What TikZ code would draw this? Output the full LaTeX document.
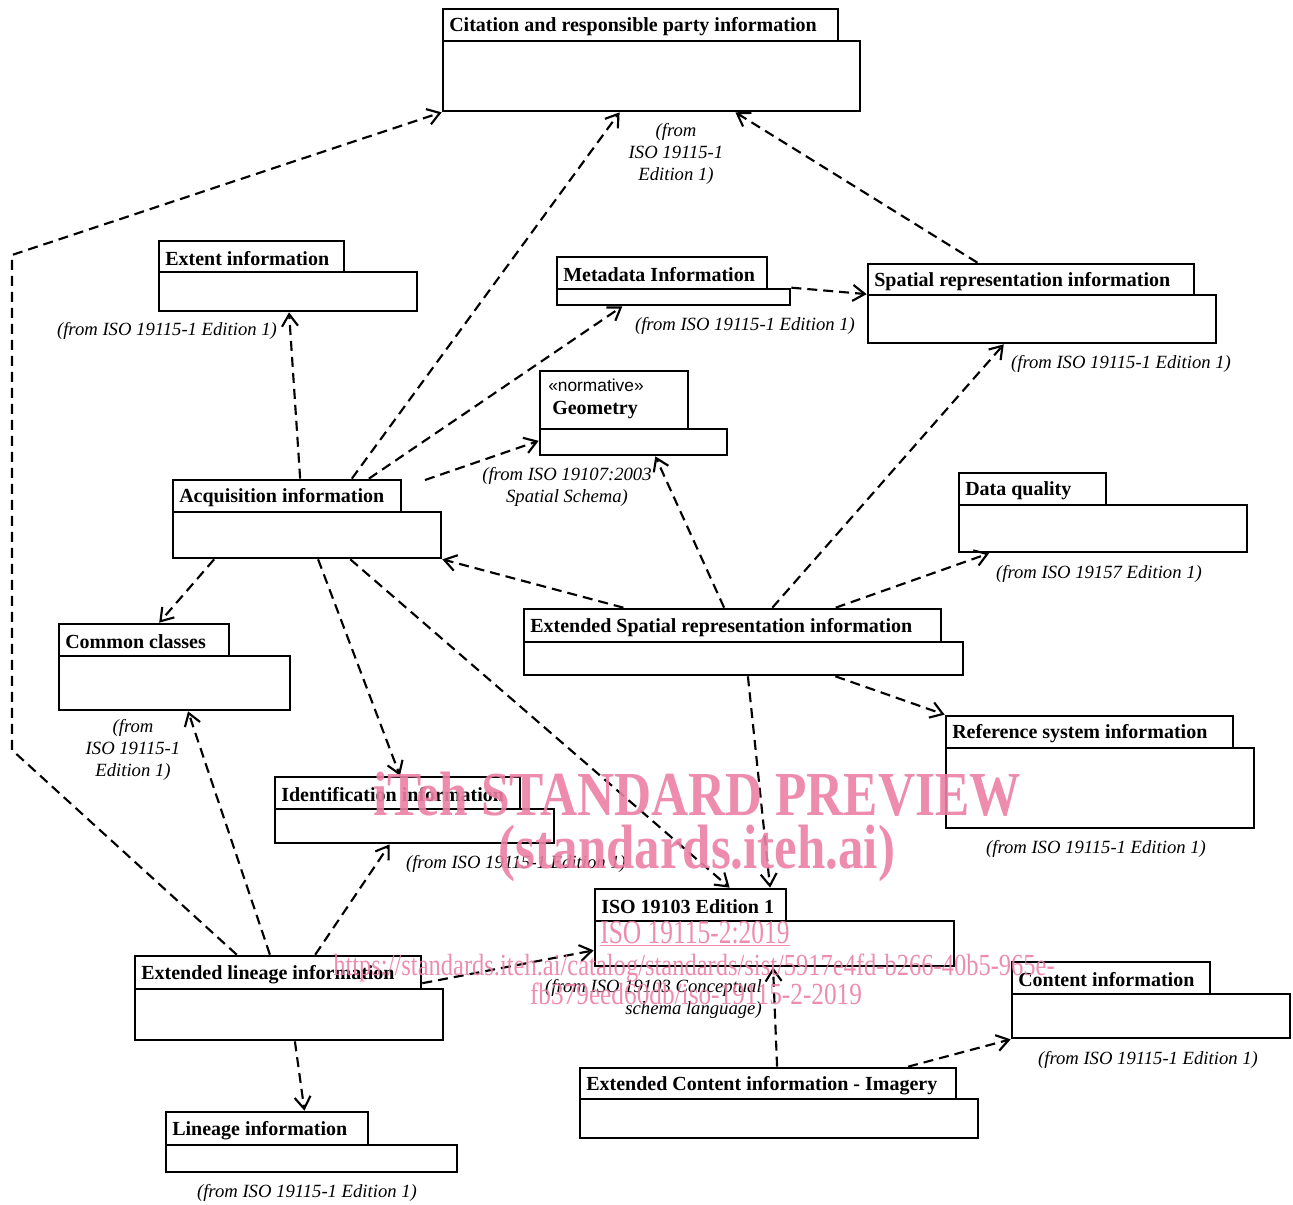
\documentclass[tikz,border=0pt]{standalone}
\usepackage{fontspec}
\setmainfont{Liberation Serif}
\newfontfamily\arialf{Liberation Sans}
\usetikzlibrary{arrows.meta,fit,calc}
\definecolor{wm}{RGB}{236,128,164}
\tikzset{
  boxline/.style={draw, line width=2pt, inner sep=0pt},
  ttl/.style={font=\fontsize{15}{18}\selectfont\bfseries, inner sep=0pt, anchor=west},
  src/.style={font=\fontsize{14}{16.5}\selectfont\itshape, inner sep=0pt, align=center},
  dep/.style={line width=1.6pt, dash pattern=on 7.5pt off 4.5pt, -{Straight Barb[length=9pt,width=12pt]}},
  wmk/.style={text=wm, inner sep=0pt, anchor=base, text opacity=0.9},
}
% #1 name, #2 tab x1, #3 tab y1, #4 tab x2, #5 body y1, #6 body x2, #7 body y2, #8 title
\newcommand\pkgbox[8]{%
  \node[boxline, fit={(#2,#3)(#4,#5)}] (#1-t) {};
  \node[boxline, fit={(#2,#5)(#6,#7)}] (#1) {};
  \node[ttl] (#1-l) at ([xshift=5.5pt,yshift=-1.5pt]#1-t.west) {#8};
}
\begin{document}
\begin{tikzpicture}[x=0.75pt,y=-0.75pt]
\useasboundingbox (0,0) rectangle (1293,1205);

% packages
\pkgbox{cit}{443}{9}{838}{41}{860}{111}{Citation and responsible party information}
\pkgbox{ext}{159}{241}{344}{272}{417}{311}{Extent information}
\pkgbox{meta}{557}{257}{767}{289}{790}{305}{Metadata Information}
\pkgbox{spr}{868}{264}{1194}{295}{1216}{343}{Spatial representation information}
\node[boxline, fit={(540,371)(688,429)}] (geo-t) {};
\node[boxline, fit={(540,429)(727,455)}] (geo) {};
\node[inner sep=0pt, anchor=base west, font=\arialf\fontsize{13}{15}\selectfont] (geo-s) at (548,392) {«normative»};
\node[ttl] (geo-l) at (552,410) {Geometry};
\pkgbox{acq}{173}{480}{401}{512}{441}{558}{Acquisition information}
\pkgbox{dq}{959}{473}{1106}{505}{1247}{552}{Data quality}
\pkgbox{esr}{524}{609}{941}{642}{963}{675}{Extended Spatial representation information}
\pkgbox{cc}{59}{624}{229}{656}{290}{710}{Common classes}
\pkgbox{rsi}{946}{716}{1233}{748}{1254}{828}{Reference system information}
\pkgbox{idi}{275}{777}{520}{809}{554}{843}{Identification information}
\pkgbox{iso}{595}{889}{786}{921}{954}{966}{ISO 19103 Edition 1}
\pkgbox{eli}{135}{956}{421}{989}{443}{1040}{Extended lineage information}
\pkgbox{ci}{1012}{962}{1210}{994}{1290}{1038}{Content information}
\pkgbox{eci}{580}{1068}{956}{1099}{978}{1138}{Extended Content information - Imagery}
\pkgbox{li}{166}{1112}{368}{1145}{457}{1172}{Lineage information}

% source labels
\node[src] (cit-f) at (676,154) {(from\\ISO 19115-1\\Edition 1)};
\node[src] (ext-f) at (167,331) {(from ISO 19115-1 Edition 1)};
\node[src] (meta-f) at (745,326) {(from ISO 19115-1 Edition 1)};
\node[src] (spr-f) at (1121,364) {(from ISO 19115-1 Edition 1)};
\node[src] (geo-f) at (567,487) {(from ISO 19107:2003\\Spatial Schema)};
\node[src] (dq-f) at (1099,574) {(from ISO 19157 Edition 1)};
\node[src] (cc-f) at (133,750) {(from\\ISO 19115-1\\Edition 1)};
\node[src] (rsi-f) at (1096,849) {(from ISO 19115-1 Edition 1)};
\node[src] (idi-f) at (516,864) {(from ISO 19115-1 Edition 1)};
\node[src, align=right, anchor=east] (iso-f) at (762,999) {(from ISO 19103 Conceptual\\schema language)};
\node[src] (ci-f) at (1148,1060) {(from ISO 19115-1 Edition 1)};
\node[src] (li-f) at (307,1193) {(from ISO 19115-1 Edition 1)};

% connectors
\coordinate (la1) at (12,750);
\coordinate (la2) at (12,255);
\coordinate (acqf) at (425,480);
\draw[dep] ($(eli-t.north west)!0.357!(eli-t.north east)$) -- (la1) -- (la2) -- (cit.south west);
\draw[dep] ($(acq-t.north west)!0.781!(acq-t.north east)$) -- ($(cit.south west)!0.424!(cit.south east)$);
\draw[dep] ($(spr-t.north west)!0.337!(spr-t.north east)$) -- ($(cit.south west)!0.700!(cit.south east)$);
\draw[dep] ($(acq-t.north west)!0.557!(acq-t.north east)$) -- ($(ext.south west)!0.504!(ext.south east)$);
\draw[dep] ($(acq-t.north west)!0.855!(acq-t.north east)$) -- ($(meta.south west)!0.283!(meta.south east)$);
\draw[dep] (acqf) -- ($(geo.north west)!0.46!(geo.south west)$);
\draw[dep] (meta.north east) -- ($(spr-t.north west)!0.935!(spr-t.south west)$);
\draw[dep] ($(esr-t.north west)!0.240!(esr-t.north east)$) -- (acq.south east);
\draw[dep] ($(esr-t.north west)!0.480!(esr-t.north east)$) -- ($(geo.south west)!0.615!(geo.south east)$);
\draw[dep] ($(esr-t.north west)!0.595!(esr-t.north east)$) -- ($(spr.south west)!0.391!(spr.south east)$);
\draw[dep] ($(esr-t.north west)!0.746!(esr-t.north east)$) -- ($(dq.south west)!0.108!(dq.south east)$);
\draw[dep] ($(esr.south west)!0.708!(esr.south east)$) -- (rsi-t.north west);
\draw[dep] ($(esr.south west)!0.510!(esr.south east)$) -- ($(iso-t.north west)!0.911!(iso-t.north east)$);
\draw[dep] ($(acq.south west)!0.157!(acq.south east)$) -- ($(cc-t.north west)!0.588!(cc-t.north east)$);
\draw[dep] ($(acq.south west)!0.541!(acq.south east)$) -- ($(idi-t.north west)!0.510!(idi-t.north east)$);
\draw[dep] ($(acq.south west)!0.660!(acq.south east)$) -- ($(iso-t.north west)!0.702!(iso-t.north east)$);
\draw[dep] ($(eli-t.north west)!0.472!(eli-t.north east)$) -- ($(cc.south west)!0.558!(cc.south east)$);
\draw[dep] ($(eli-t.north west)!0.629!(eli-t.north east)$) -- ($(idi.south west)!0.412!(idi.south east)$);
\draw[dep] ($(eli-t.north east)!0.8!(eli-t.south east)$) -- ($(iso.north west)!0.644!(iso.south west)$);
\draw[dep] ($(eli.south west)!0.519!(eli.south east)$) -- ($(li-t.north west)!0.683!(li-t.north east)$);
\draw[dep] ($(eci-t.north west)!0.524!(eci-t.north east)$) -- ($(iso.south west)!0.496!(iso.south east)$);
\draw[dep] ($(eci-t.north west)!0.870!(eci-t.north east)$) -- (ci.south west);

% watermark
\node[wmk] (wm1) at (697,815) {\resizebox{486pt}{\height}{\fontsize{47}{50}\selectfont\bfseries iTeh STANDARD PREVIEW}};
\node[wmk] (wm2) at (697,868) {\resizebox{297pt}{\height}{\fontsize{47}{50}\selectfont\bfseries (standards.iteh.ai)}};
\node[wmk, anchor=base west] (wm3) at (600,943) {\resizebox{142pt}{\height}{\fontsize{25}{28}\selectfont\underline{ISO 19115-2:2019}}};
\node[wmk] (wm4) at (694,975) {\resizebox{541pt}{\height}{\fontsize{23}{26}\selectfont https://standards.iteh.ai/catalog/standards/sist/5917e4fd-b266-40b5-965e-}};
\node[wmk] (wm5) at (696,1004) {\resizebox{249pt}{\height}{\fontsize{23}{26}\selectfont fb379eed60db/iso-19115-2-2019}};
\end{tikzpicture}
\end{document}
